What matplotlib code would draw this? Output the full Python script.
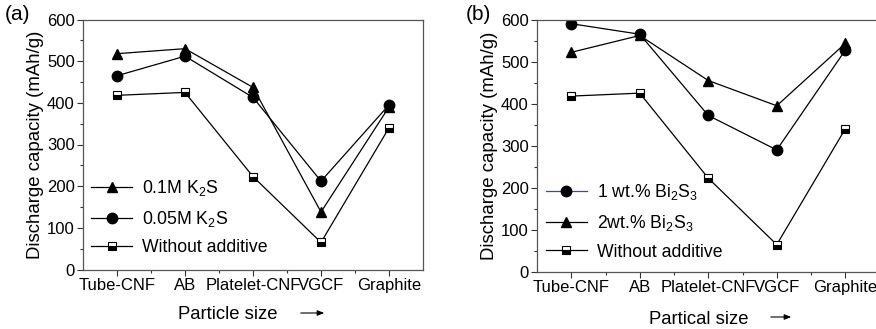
import matplotlib
matplotlib.use("Agg")
import matplotlib.pyplot as plt
from matplotlib.lines import Line2D

plt.rcParams["font.family"] = ["Liberation Sans", "DejaVu Sans"]
plt.rcParams["mathtext.fontset"] = "custom"
plt.rcParams["mathtext.rm"] = "Liberation Sans"
plt.rcParams["mathtext.it"] = "Liberation Sans:italic"

categories = ["Tube-CNF", "AB", "Platelet-CNF", "VGCF", "Graphite"]
k2s_01 = [518, 530, 437, 138, 390]
k2s_005 = [465, 512, 413, 212, 395]
bi2s3_1 = [590, 565, 372, 290, 527]
bi2s3_2 = [522, 562, 455, 395, 543]
no_additive = [418, 425, 223, 65, 340]

W, H = 876, 329
fig = plt.figure(figsize=(W / 100, H / 100), dpi=100)
ax_a = fig.add_axes([83 / W, 1 - 269.5 / H, 340 / W, 250 / H])
ax_b = fig.add_axes([537 / W, 1 - 272 / H, 342.5 / W, 252.5 / H])

x = list(range(1, len(categories) + 1))
ms = dict(color="black", lw=0.9, mec="black", mfc="black")
sq = dict(color="black", lw=0.9, marker="s", ms=5.5, mec="black", mfc="black",
          fillstyle="bottom", markerfacecoloralt="white", mew=0.8)


def style(ax, xlabel, xl_pos):
    ax.set_xlim(0.5, 5.5)
    ax.set_ylim(0, 600)
    ax.set_xticks(x)
    ax.set_xticklabels(categories, fontsize=12)
    ax.set_xticks([1.5, 2.5, 3.5, 4.5], minor=True)
    ax.set_yticks(range(0, 601, 100))
    ax.set_yticks(range(50, 600, 100), minor=True)
    ax.tick_params(axis="y", labelsize=12)
    ax.tick_params(which="major", direction="out", length=4, width=0.8, color="#333333", pad=2)
    ax.tick_params(which="minor", direction="out", length=2.5, width=0.8, color="#333333")
    for s in ax.spines.values():
        s.set_color("#555555")
        s.set_linewidth(0.9)
    ax.set_ylabel("Discharge capacity (mAh/g)", fontsize=13.4, labelpad=2)
    ax.set_xlabel(xlabel, fontsize=13.3)
    ax.xaxis.set_label_coords(*xl_pos)


leg_kw = dict(frameon=False, fontsize=12.7, handlelength=2.33, handletextpad=0.55,
              labelspacing=0.6, borderpad=0, borderaxespad=0, loc="upper left")

# panel (a)
ax_a.plot(x, k2s_01, marker="^", ms=7.5, label="0.1M K$_2$S", **ms)
ax_a.plot(x, k2s_005, marker="o", ms=7.5, label="0.05M K$_2$S", **ms)
ax_a.plot(x, no_additive, label="Without additive", **sq)
style(ax_a, "Particle size", (0.426, -0.145))
ax_a.legend(bbox_to_anchor=(0.0235, 0.365), **leg_kw)

# panel (b)
ax_b.plot(x, bi2s3_1, marker="o", ms=7.5, **ms)
ax_b.plot(x, bi2s3_2, marker="^", ms=7.5, **ms)
ax_b.plot(x, no_additive, **sq)
style(ax_b, "Partical size", (0.473, -0.155))
handles = [
    Line2D([], [], color="#3a3aff", lw=0.9, marker="o", ms=7.5, mec="black", mfc="black"),
    Line2D([], [], marker="^", ms=7.5, **ms),
    Line2D([], [], **sq),
]
ax_b.legend(handles, ["1 wt.% Bi$_2$S$_3$", "2wt.% Bi$_2$S$_3$", "Without additive"],
            bbox_to_anchor=(0.026, 0.355), **leg_kw)

fig.text(5 / W, 1 - 15 / H, "(a)", fontsize=15, va="center")
fig.text(466 / W, 1 - 15 / H, "(b)", fontsize=15, va="center")

for x0, x1, y in [(298, 327, 313), (768, 794, 317)]:
    fig.add_artist(matplotlib.patches.FancyArrowPatch(
        (x0 / W, 1 - y / H), (x1 / W, 1 - y / H), transform=fig.transFigure,
        arrowstyle="-|>,head_length=4,head_width=1.6", lw=0.8, color="black"))

fig.savefig("out.png", dpi=100)
